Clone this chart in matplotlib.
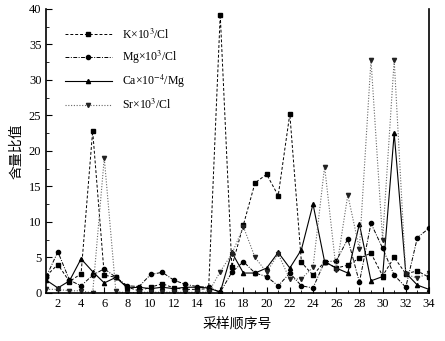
import matplotlib
matplotlib.use("Agg")
import matplotlib.pyplot as plt
from matplotlib.ticker import MultipleLocator

plt.rcParams['font.family'] = ['Liberation Serif', 'Noto Sans CJK SC']
plt.rcParams['mathtext.fontset'] = 'stix'

# 采样顺序号 1..34
samples = list(range(1, 35))

k_cl = [2.4, 4.0, 1.6, 2.7, 22.8, 2.5, 2.2, 0.8, 0.3, 0.8, 1.3, 0.7, 0.5, 0.5, 0.6, 39.2, 3.7,
        9.6, 15.5, 16.7, 13.7, 25.2, 4.3, 2.5, 4.4, 3.5, 3.9, 4.9, 5.6, 2.4, 5.0, 2.7, 3.1, 2.2]
mg_cl = [2.3, 5.8, 1.8, 1.0, 2.5, 3.4, 2.2, 1.0, 0.9, 2.6, 2.9, 1.8, 1.2, 0.9, 0.8, 0.1, 2.9,
         4.4, 2.8, 2.3, 1.0, 2.8, 1.0, 0.7, 4.4, 4.5, 7.6, 1.5, 9.8, 6.3, 2.5, 0.8, 7.8, 9.1]
ca_mg = [1.8, 0.7, 1.7, 4.8, 3.0, 1.4, 2.2, 0.7, 0.8, 0.6, 0.8, 0.6, 0.8, 0.8, 0.7, 0.1, 5.7,
         2.8, 2.8, 3.5, 5.7, 3.5, 6.1, 12.5, 4.4, 3.5, 2.8, 9.7, 1.7, 2.3, 22.5, 2.8, 1.1, 0.5]
sr_cl = [0.5, 0.5, 0.3, 0.3, 0.0, 19.0, 0.2, 0.0, 0.1, 0.1, 0.1, 0.1, 0.1, 0.1, 0.1, 3.0, 5.5,
         9.3, 5.0, 2.9, 5.5, 1.9, 2.0, 3.6, 17.8, 3.2, 13.8, 6.2, 32.8, 7.5, 32.8, 2.6, 2.1, 2.8]

fig = plt.figure(figsize=(4.45, 3.41), dpi=100)
ax = fig.add_axes([0.104, 0.141, 0.86, 0.833])

ax.plot(samples, k_cl, color='black', linestyle=(0, (3, 2)), linewidth=0.7,
        marker='s', markersize=3, label='K×10$^3$/Cl')
ax.plot(samples, mg_cl, color='black', linestyle=(0, (4, 1.5, 1, 1.5)), linewidth=0.7,
        marker='o', markersize=3, label='Mg×10$^3$/Cl')
ax.plot(samples, ca_mg, color='black', linestyle='-', linewidth=0.8,
        marker='^', markersize=3, label='Ca×10$^{-4}$/Mg')
ax.plot(samples, sr_cl, color='#666666', linestyle=(0, (1, 1.5)), linewidth=0.8,
        marker='v', markersize=3, markerfacecolor='#222222', markeredgecolor='#222222',
        label='Sr×10$^3$/Cl')

ax.set_xlim(1, 34)
ax.set_ylim(0, 40)
ax.xaxis.set_major_locator(MultipleLocator(2))
ax.xaxis.set_minor_locator(MultipleLocator(1))
ax.yaxis.set_major_locator(MultipleLocator(5))
ax.yaxis.set_minor_locator(MultipleLocator(2.5))
ax.tick_params(which='both', direction='in', labelsize=9, top=False, right=False)
ax.tick_params(which='major', length=4)
ax.tick_params(which='minor', length=2)
ax.spines['top'].set_visible(False)
for s in ['left', 'bottom', 'right']:
    ax.spines[s].set_linewidth(1.2)

ax.set_xlabel('采样顺序号', fontsize=10, labelpad=5)
ax.set_ylabel('含量比值', fontsize=10, labelpad=4)

ax.legend(loc='upper left', bbox_to_anchor=(0.03, 0.96), frameon=False, fontsize=8.5,
          handlelength=4, labelspacing=0.6, borderaxespad=0.2)

fig.savefig('out.png', dpi=100)
